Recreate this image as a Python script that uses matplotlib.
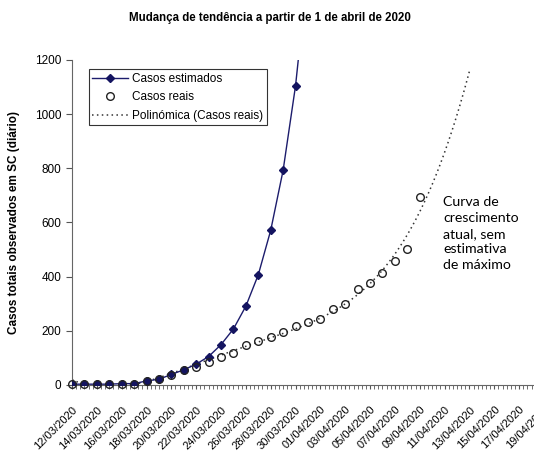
import numpy as np
import matplotlib.pyplot as plt
import matplotlib.transforms as mtransforms
from matplotlib.ticker import MultipleLocator, FixedLocator
from datetime import date, timedelta

# dias a partir de 12/03/2020
start = date(2020, 3, 12)
est_days = list(range(0, 20))
est_cases = [3, 3, 3, 3, 5, 5, 15, 21, 39, 56, 77, 105, 149, 207, 291, 407, 571, 793, 1105, 1540]

real_days = list(range(0, 29))
real_cases = [3, 3, 3, 3, 5, 5, 14, 21, 38, 56, 65, 84, 105, 119, 147, 161, 179, 196, 216,
              231, 244, 280, 299, 354, 377, 414, 457, 503, 695]

tick_days = list(range(0, 40, 2))
tick_labels = [(start + timedelta(days=d)).strftime('%d/%m/%Y') for d in tick_days]

# tendência polinomial de grau 4 (como no Excel), projetada 4 dias para frente
coef = np.polyfit(real_days, real_cases, 4)
trend_x = np.linspace(0, real_days[-1] + 4, 300)
trend_y = np.polyval(coef, trend_x)

plt.rcParams['font.family'] = ['Liberation Sans', 'DejaVu Sans']

fig = plt.figure(figsize=(5.34, 4.62), dpi=100)
ax = fig.add_axes([0.1348, 0.1667, 0.9071, 0.7035])

ax.plot(trend_x, trend_y, color='#333333', linestyle=(0, (1, 2.2)), linewidth=1.1,
        label='Polinómica (Casos reais)')
ax.plot(est_days, est_cases, color='#1c1c6c', linewidth=1, marker='D', markersize=3.8,
        markerfacecolor='#141460', markeredgecolor='#141460', label='Casos estimados',
        clip_on=True, zorder=3)
ax.plot(real_days, real_cases, linestyle='none', marker='o', markersize=5.5,
        markerfacecolor='none', markeredgecolor='#222222', markeredgewidth=1,
        label='Casos reais', clip_on=False, zorder=4)

ax.set_xlim(0, 39)
ax.set_ylim(0, 1200)
ax.set_yticks(range(0, 1201, 200))
ax.xaxis.set_major_locator(FixedLocator(tick_days))
ax.set_xticklabels(tick_labels, rotation=45, ha='right', rotation_mode='anchor', fontsize=8)
shift = mtransforms.ScaledTranslation(-4 / 100, 0, fig.dpi_scale_trans)
for lab in ax.get_xticklabels():
    lab.set_transform(lab.get_transform() + shift)
ax.xaxis.set_minor_locator(MultipleLocator(1 / 3))
ax.tick_params(axis='x', which='both', direction='out', length=3, color='#555555', pad=11)
ax.tick_params(axis='y', direction='out', length=4, color='#555555', labelsize=8.5)

for s in ['top', 'right']:
    ax.spines[s].set_visible(False)
ax.spines['left'].set_color('#666666')
ax.spines['bottom'].set_color('#666666')

ax.set_ylabel('Casos totais observados em SC (diário)', fontsize=8.5, fontweight='bold', labelpad=11)
fig.suptitle('Mudança de tendência a partir de 1 de abril de 2020', fontsize=8.3, fontweight='bold',
             x=0.505, y=0.975)

handles, labels = ax.get_legend_handles_labels()
order = [1, 2, 0]
leg = ax.legend([handles[i] for i in order], [labels[i] for i in order], loc='upper left',
                bbox_to_anchor=(0.022, 0.99), fontsize=8.5, frameon=True, fancybox=False,
                edgecolor='black', handlelength=3, borderpad=0.3, labelspacing=0.55,
                handletextpad=0.4)
leg.get_frame().set_linewidth(0.8)

ax.text(29.9, 696, 'Curva de\ncrescimento\natual, sem\nestimativa\nde máximo',
        fontsize=10.2, family=['Lato', 'DejaVu Sans'], va='top', ha='left', linespacing=1.36)

fig.savefig('out.png', dpi=100)
